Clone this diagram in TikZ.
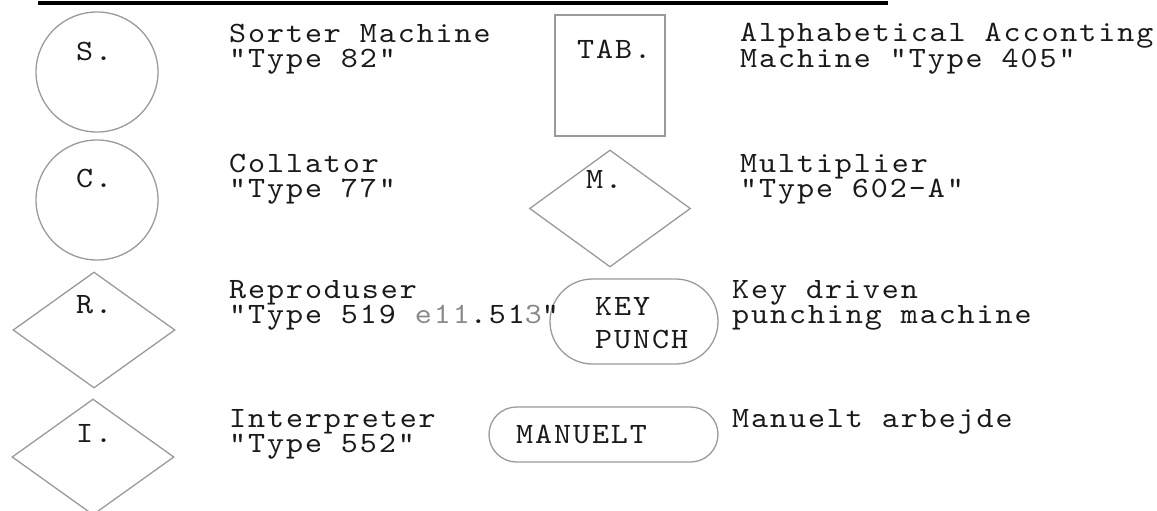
\documentclass[tikz,border=0pt]{standalone}
\usepackage{fontspec}
\usetikzlibrary{shapes.geometric,shapes.misc}
\newfontfamily\twfam[LetterSpace=6.5,FakeStretch=1.1]{lmmono10-regular.otf}
\definecolor{ink}{HTML}{1A1A1A}
\definecolor{edge}{HTML}{9A9A9A}
\definecolor{faded}{HTML}{8A8A8A}
\newcommand\twfont{\twfam\fontsize{29.5}{25}\selectfont}
\tikzset{
  shapeline/.style={draw=edge, line width=1.3pt, inner sep=0pt},
  txt/.style={anchor=base west, inner sep=0pt, align=left, text=ink,
    font=\twfont},
  lbl/.style={anchor=base west, inner sep=0pt, text=ink,
    font=\twfont},
}
\begin{document}
\begin{tikzpicture}[x=1pt,y=-1pt]
\useasboundingbox (0,0) rectangle (1157,511);
% top rule
\coordinate (r1) at (38,3);
\coordinate (r2) at (888,3);
\draw[line width=3.2pt, black] (r1) -- (r2);

% shapes, left column
\node[shapeline, ellipse, minimum width=122pt, minimum height=120pt] (S) at (97,72) {};
\node[shapeline, ellipse, minimum width=122pt, minimum height=120pt] (C) at (97,200) {};
\node[shapeline, diamond, minimum width=162pt, minimum height=116pt] (R) at (94,330) {};
\node[shapeline, diamond, minimum width=162pt, minimum height=116pt] (I) at (93,457) {};

\node[lbl] (Sl) at (76,60) {S.};
\node[lbl] (Cl) at (76,187) {C.};
\node[lbl] (Rl) at (76,313) {R.};
\node[lbl] (Il) at (76,442) {I.};

% shapes, middle column
\node[shapeline, rectangle, minimum width=110pt, minimum height=121pt] (TAB) at (610,75.5) {};
\node[shapeline, diamond, minimum width=161pt, minimum height=117pt] (M) at (610,208.5) {};
\node[shapeline, rounded rectangle, minimum width=168pt, minimum height=85pt] (KP) at (634,321.5) {};
\node[shapeline, rounded rectangle, minimum width=229pt, minimum height=55pt] (MAN) at (603.5,434.5) {};

\node[lbl] (TABl) at (577,59) {TAB.};
\node[lbl] (Ml) at (586,188) {M.};
\node[lbl, align=left, font=\twfam\fontsize{29.5}{33}\selectfont] (KPl) at (595,348) {KEY\\PUNCH};
\node[lbl] (MANl) at (516,443) {MANUELT};

% descriptions, left (anchor at the baseline of the last line)
\node[txt] (d1) at (229,68) {Sorter Machine\\"Type 82"};
\node[txt] (d2) at (229,197) {Collator\\"Type 77"};
\node[txt] (d3) at (229,323) {Reproduser\\"Type 519 {\color{faded}e11}.51{\color{faded}3}"};
\node[txt] (d4) at (229,452) {Interpreter\\"Type 552"};

% descriptions, right
\node[txt] (d5) at (740,68) {Alphabetical Acconting\\Machine "Type 405"};
\node[txt] (d6) at (740,197) {Multiplier\\"Type 602-A"};
\node[txt] (d7) at (732,323) {Key driven\\punching machine};
\node[txt] (d8) at (732,427) {Manuelt arbejde};
\end{tikzpicture}
\end{document}
